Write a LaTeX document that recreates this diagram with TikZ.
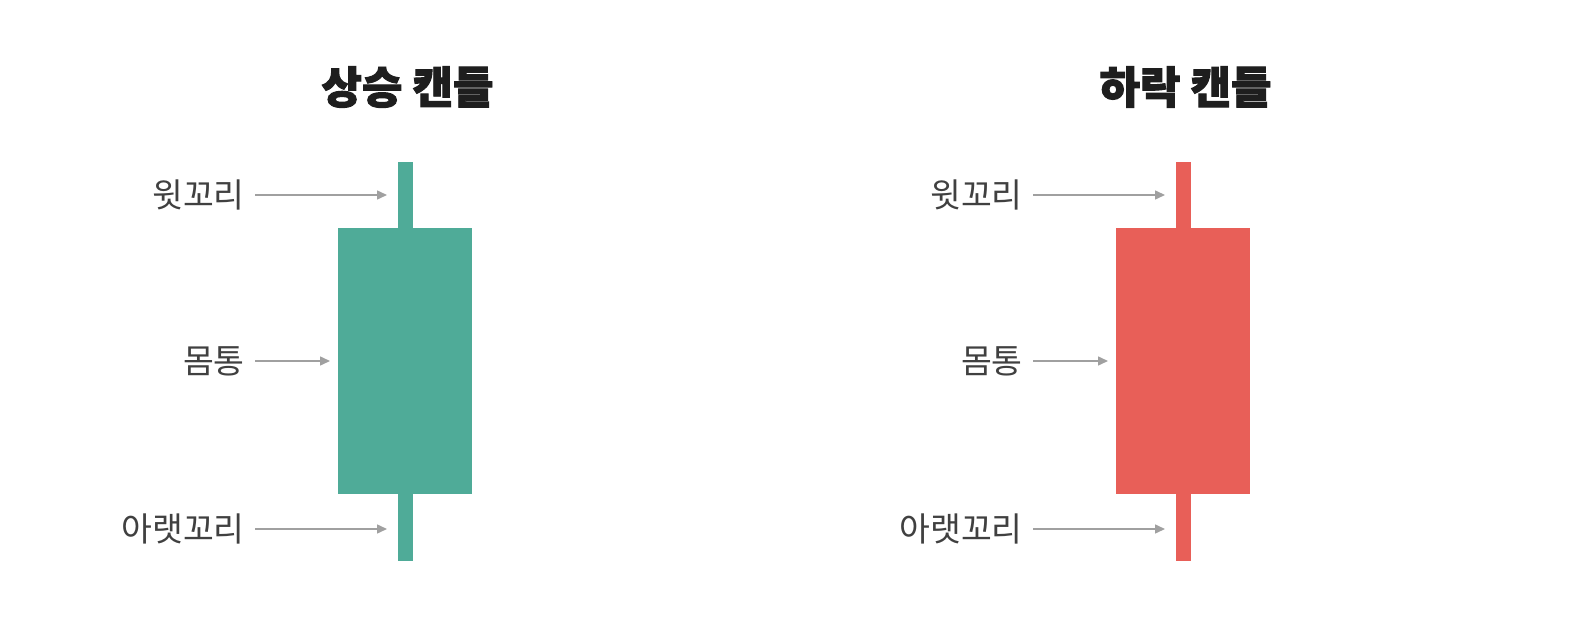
\documentclass[tikz,border=0pt]{standalone}
\usepackage{fontspec}
\setmainfont{Noto Sans CJK KR}
\newfontfamily\ttlfont[BoldFeatures={FakeBold=2.2}]{Noto Sans CJK KR}
\usetikzlibrary{arrows.meta}
\definecolor{upc}{HTML}{4FAB98}
\definecolor{dnc}{HTML}{E85F58}
\definecolor{arr}{HTML}{A0A0A0}
\definecolor{lab}{HTML}{404040}
\definecolor{ttlc}{HTML}{1E1E1E}
\begin{document}
\begin{tikzpicture}[x=1pt,y=-1pt,
  part/.style={draw=none,inner sep=0,outer sep=0,rectangle},
  lbl/.style={inner sep=0,anchor=east,font=\fontsize{33.5}{33.5}\selectfont,text=lab},
  ttl/.style={inner sep=0,font=\ttlfont\fontsize{44}{44}\selectfont\bfseries,text=ttlc},
  pointer/.style={draw=arr,line width=1.5pt,-{Triangle[length=10pt,width=9pt]}}]
\useasboundingbox (0,0) rectangle (1580,644);
\fill[white] (0,0) rectangle (1580,644);
\foreach \dx/\c/\t/\n in {0/upc/상승 캔들/a, 778/dnc/하락 캔들/b} {
  \begin{scope}[xshift=\dx pt]
  \node[ttl] (\n t) at (407.5,87) {\t};
  \node[part,fill=\c,minimum width=15pt,minimum height=66pt] (\n w1) at (405.5,195) {};
  \node[part,fill=\c,minimum width=134pt,minimum height=266pt] (\n b) at (405,361) {};
  \node[part,fill=\c,minimum width=15pt,minimum height=67pt] (\n w2) at (405.5,527.5) {};
  \node[lbl] (\n l1) at (245,195) {윗꼬리};
  \node[lbl] (\n l2) at (245,361) {몸통};
  \node[lbl] (\n l3) at (245,529) {아랫꼬리};
  \draw[pointer,shorten >=11pt] ([xshift=10pt]\n l1.east) -- (\n l1.east -| \n w1.west);
  \draw[pointer,shorten >=8pt] ([xshift=10pt]\n l2.east) -- (\n l2.east -| \n b.west);
  \draw[pointer,shorten >=11pt] ([xshift=10pt]\n l3.east) -- (\n l3.east -| \n w2.west);
  \end{scope}
}
\end{tikzpicture}
\end{document}
